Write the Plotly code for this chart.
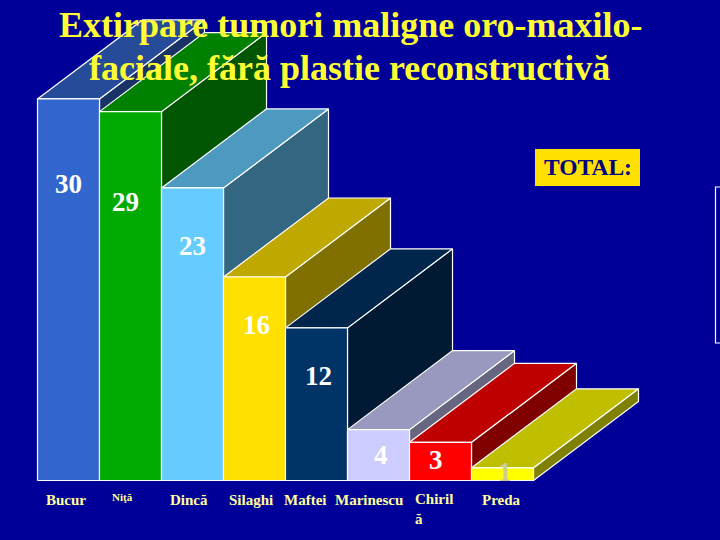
import plotly.graph_objects as go

# values
title_lines = ['Extirpare tumori maligne oro-maxilo-', 'faciale, fără plastie reconstructivă']
names = ['Bucur', 'Niţă', 'Dincă', 'Silaghi', 'Maftei', 'Marinescu', 'Chiril<br>ă', 'Preda']
values = [30, 29, 23, 16, 12, 4, 3, 1]
front_colors = ['#3366CC', '#00AA00', '#66CCFF', '#FFE000', '#003366', '#CCCCFF', '#FF0000', '#FFFF00']
top_colors = ['#264C99', '#008000', '#4D99BF', '#BFA800', '#00264C', '#9999BF', '#BF0000', '#BFBF00']
side_colors = ['#1A3366', '#005500', '#336680', '#807000', '#001A33', '#666680', '#800000', '#808000']

# pixel layout of the slide
W, H = 720, 540
BAR_PX = 62
UNIT_PX = 12.72
LEFT_PX = 37.5
BASE_PX = 480.5
DX = 105 / BAR_PX    # depth offset in x units
DY = 79 / UNIT_PX    # depth offset in y units
BG = '#000099'

# where the value labels sit (px), they are not centred on the bars in the original
value_pos = [(68, 184), (125, 202), (192, 246), (256, 325), (318, 376), (381, 455), (436, 460), (505, 472)]
name_pos = [(66, 500), (122, 497), (189, 500), (251, 500), (305, 500), (369, 500), (434, 509), (501, 500)]
title_pos = [(351, 25), (349, 68)]


def px_x(x):
    return x / W


def px_y(y):
    return 1 - y / H


def poly(xs, ys, color):
    return go.Scatter(x=xs, y=ys, mode='lines', fill='toself', fillcolor=color,
                      line=dict(color='white', width=1.2), hoverinfo='skip', showlegend=False)


def label(x, y, text, size, color):
    fig.add_annotation(x=px_x(x), y=px_y(y), xref='paper', yref='paper', text=text, showarrow=False,
                       xanchor='center', yanchor='middle', align='left',
                       font=dict(family='Liberation Serif', size=size, color=color, weight='bold'))


fig = go.Figure()

# left to right so each bar covers the side of the one before it
for i, v in enumerate(values):
    l, r = i, i + 1
    fig.add_trace(poly([r, r + DX, r + DX, r, r], [0, DY, v + DY, v, 0], side_colors[i]))
    fig.add_trace(poly([l, r, r + DX, l + DX, l], [v, v, v + DY, v + DY, v], top_colors[i]))
    fig.add_trace(poly([l, r, r, l, l], [0, 0, v, v, 0], front_colors[i]))

# the "1" is almost lost on the yellow bar in the original
for i, v in enumerate(values):
    label(value_pos[i][0], value_pos[i][1], str(v), 27, '#CCCC99' if v == 1 else 'white')

for i, name in enumerate(names):
    label(name_pos[i][0], name_pos[i][1], name, 11 if name == 'Niţă' else 15, '#FFFF99')

for line, pos in zip(title_lines, title_pos):
    label(pos[0], pos[1], line, 36, '#FFFF33')

label(588, 167.5, 'TOTAL:', 23.5, '#000080')

# TOTAL box and the cut-off frame on the right edge
fig.add_shape(type='rect', xref='paper', yref='paper', x0=px_x(535), x1=px_x(640), y0=px_y(149), y1=px_y(186),
              fillcolor='#FFE000', line=dict(width=0), layer='below')
fig.add_shape(type='rect', xref='paper', yref='paper', x0=px_x(715.5), x1=px_x(730), y0=px_y(187), y1=px_y(343),
              line=dict(color='white', width=1.2), layer='below')

fig.update_layout(
    width=W, height=H,
    margin=dict(l=0, r=0, t=0, b=0),
    paper_bgcolor=BG, plot_bgcolor=BG,
    showlegend=False,
    xaxis=dict(range=[-LEFT_PX / BAR_PX, (W - LEFT_PX) / BAR_PX], visible=False, fixedrange=True),
    yaxis=dict(range=[(BASE_PX - H) / UNIT_PX, BASE_PX / UNIT_PX], visible=False, fixedrange=True),
)

# page has a default 8px body margin, drop it so the slide fills the window
fig.write_html("out.html", config={'displayModeBar': False},
               post_script="document.body.style.margin='0';document.body.style.overflow='hidden';")
